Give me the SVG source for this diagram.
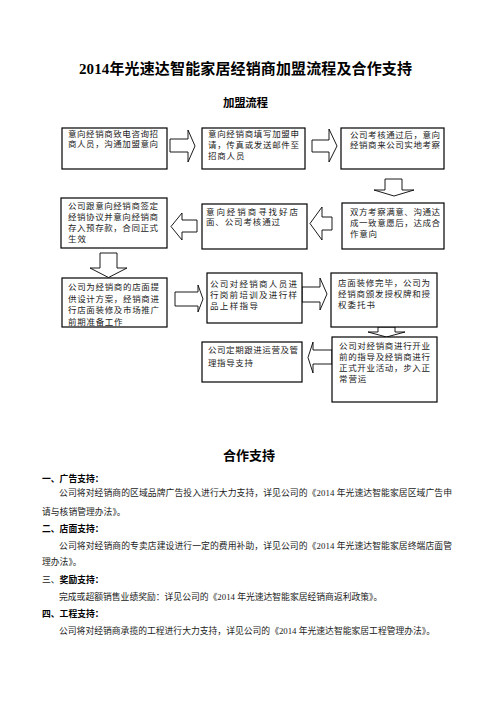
<svg xmlns="http://www.w3.org/2000/svg" width="497" height="702" viewBox="0 0 497 702">
<style>
.bg{fill:#fff}
.box{fill:#fff;stroke:#000;stroke-width:1.2}
.arr{fill:#fff;stroke:#000;stroke-width:0.9;stroke-linejoin:miter}
.t{font-family:"Liberation Serif","Noto Sans CJK SC",serif;font-size:8.5px;fill:#222}
.p{font-family:"Liberation Serif","Noto Sans CJK SC",serif;font-size:8.8px;fill:#222}
.h{font-family:"Liberation Serif","Noto Sans CJK SC",serif;font-size:8.8px;font-weight:bold;fill:#000}
.title{font-family:"Liberation Serif","Noto Sans CJK SC",serif;font-weight:bold;fill:#000}
</style>
<rect class="bg" x="0" y="0" width="497" height="702"/>
<g id="headings">
<text class="title" x="79" y="74" font-size="15" textLength="333" lengthAdjust="spacing">2014年光速达智能家居经销商加盟流程及合作支持</text>
<text class="title" x="223" y="107" font-size="11.5" textLength="45" lengthAdjust="spacing">加盟流程</text>
</g>
<g id="connectors">
<polygon class="arr" points="170,139 188,139 188,130 195,146 188,162 188,152 170,152"/>
<polygon class="arr" points="312,140 329,140 329,129 337,146 329,162 329,152 312,152"/>
<polygon class="arr" points="385,179 402,179 402,190 414,190 394,196 374,190 385,190"/>
<polygon class="arr" points="332,217 322,217 322,207 310,223.5 322,240 322,230 332,230"/>
<polygon class="arr" points="197,220 182,220 182,213 171,226.5 182,240 182,232 197,232"/>
<polygon class="arr" points="100,253 117,253 117,268 127,268 108.5,277.5 90,268 100,268"/>
<polygon class="arr" points="175,292 198,292 198,285 203,299 198,312 198,306 175,306"/>
<polygon class="arr" points="302,287 320,287 320,278 327,294 320,310 320,302 302,302"/>
<polygon class="arr" points="378,327 395,327 395,332 405,332 386.5,337 368,332 378,332"/>
<polygon class="arr" points="332,350 313,350 313,342 308,357.5 313,373 313,364 332,364"/>
</g>
<g id="n1">
<rect class="box" x="62" y="128" width="105" height="41"/>
<text class="t" x="68" y="136.5" textLength="90" lengthAdjust="spacing">意向经销商致电咨询招</text>
<text class="t" x="68" y="147" textLength="90" lengthAdjust="spacing">商人员，沟通加盟意向</text>
</g>
<g id="n2">
<rect class="box" x="202" y="128" width="103" height="41"/>
<text class="t" x="208" y="136.5" textLength="91" lengthAdjust="spacing">意向经销商填写加盟申</text>
<text class="t" x="208" y="147.5" textLength="91" lengthAdjust="spacing">请，传真或发送邮件至</text>
<text class="t" x="208" y="158.5" textLength="36.4" lengthAdjust="spacing">招商人员</text>
</g>
<g id="n3">
<rect class="box" x="341" y="128" width="103" height="41"/>
<text class="t" x="350" y="138" textLength="90" lengthAdjust="spacing">公司考核通过后，意向</text>
<text class="t" x="350" y="148" textLength="90" lengthAdjust="spacing">经销商来公司实地考察</text>
</g>
<g id="n4">
<rect class="box" x="61" y="198" width="106" height="50"/>
<text class="t" x="68" y="209" textLength="90" lengthAdjust="spacing">公司跟意向经销商签定</text>
<text class="t" x="68" y="220" textLength="90" lengthAdjust="spacing">经销协议并意向经销商</text>
<text class="t" x="68" y="231" textLength="90" lengthAdjust="spacing">存入预存款，合同正式</text>
<text class="t" x="68" y="242" textLength="18" lengthAdjust="spacing">生效</text>
</g>
<g id="n5">
<rect class="box" x="202" y="204" width="105" height="45"/>
<text class="t" x="206" y="215" textLength="92" lengthAdjust="spacing">意向经销商寻找好店</text>
<text class="t" x="206" y="225" textLength="74" lengthAdjust="spacing">面、公司考核通过</text>
</g>
<g id="n6">
<rect class="box" x="342" y="203" width="102" height="46"/>
<text class="t" x="350" y="215" textLength="90" lengthAdjust="spacing">双方考察满意、沟通达</text>
<text class="t" x="350" y="225.5" textLength="90" lengthAdjust="spacing">成一致意愿后，达成合</text>
<text class="t" x="350" y="236.5" textLength="27" lengthAdjust="spacing">作意向</text>
</g>
<g id="n7">
<rect class="box" x="62" y="278" width="105" height="49"/>
<text class="t" x="68" y="290" textLength="91" lengthAdjust="spacing">公司为经销商的店面提</text>
<text class="t" x="68" y="301.5" textLength="91" lengthAdjust="spacing">供设计方案，经销商进</text>
<text class="t" x="68" y="313" textLength="91" lengthAdjust="spacing">行店面装修及市场推广</text>
<text class="t" x="68" y="324.5" textLength="54.6" lengthAdjust="spacing">前期准备工作</text>
</g>
<g id="n8">
<rect class="box" x="207" y="273" width="95" height="50"/>
<text class="t" x="210" y="287" textLength="87" lengthAdjust="spacing">公司对经销商人员进</text>
<text class="t" x="210" y="298" textLength="87" lengthAdjust="spacing">行岗前培训及进行样</text>
<text class="t" x="210" y="309" textLength="48" lengthAdjust="spacing">品上样指导</text>
</g>
<g id="n9">
<rect class="box" x="331" y="273" width="106" height="54"/>
<text class="t" x="338" y="286" textLength="92" lengthAdjust="spacing">店面装修完毕，公司为</text>
<text class="t" x="338" y="297" textLength="92" lengthAdjust="spacing">经销商颁发授权牌和授</text>
<text class="t" x="338" y="308" textLength="37" lengthAdjust="spacing">权委托书</text>
</g>
<g id="n10">
<rect class="box" x="332" y="337" width="105" height="65"/>
<text class="t" x="339" y="349" textLength="91" lengthAdjust="spacing">公司对经销商进行开业</text>
<text class="t" x="339" y="360" textLength="91" lengthAdjust="spacing">前的指导及经销商进行</text>
<text class="t" x="339" y="371" textLength="91" lengthAdjust="spacing">正式开业活动，步入正</text>
<text class="t" x="339" y="382" textLength="27.3" lengthAdjust="spacing">常营运</text>
</g>
<g id="n11">
<rect class="box" x="202" y="342" width="100" height="40"/>
<text class="t" x="208" y="353" textLength="90" lengthAdjust="spacing">公司定期跟进运营及管</text>
<text class="t" x="208" y="366" textLength="45" lengthAdjust="spacing">理指导支持</text>
</g>
<g id="support">
<text class="title" x="223" y="460" font-size="13" textLength="52" lengthAdjust="spacing">合作支持</text>
<text class="h" x="42" y="482">一、广告支持：</text>
<text class="p" x="59" y="496" textLength="393" lengthAdjust="spacing">公司将对经销商的区域品牌广告投入进行大力支持，详见公司的《2014 年光速达智能家居区域广告申</text>
<text class="p" x="42" y="515">请与核销管理办法》。</text>
<text class="h" x="42" y="532">二、店面支持：</text>
<text class="p" x="59" y="548.5" textLength="393" lengthAdjust="spacing">公司将对经销商的专卖店建设进行一定的费用补助，详见公司的《2014 年光速达智能家居终端店面管</text>
<text class="p" x="42" y="565">理办法》。</text>
<text class="p" x="42" y="583">三、<tspan font-weight="bold" fill="#000">奖励支持：</tspan></text>
<text class="p" x="59" y="600">完成或超额销售业绩奖励：详见公司的《2014 年光速达智能家居经销商返利政策》。</text>
<text class="h" x="42" y="617">四、工程支持：</text>
<text class="p" x="59" y="633.5">公司将对经销商承揽的工程进行大力支持，详见公司的《2014 年光速达智能家居工程管理办法》。</text>
</g>
</svg>
